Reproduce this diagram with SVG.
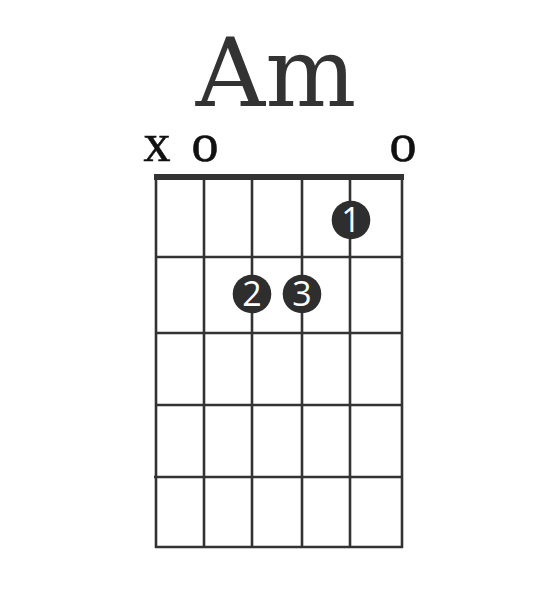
<svg xmlns="http://www.w3.org/2000/svg" width="554" height="611" viewBox="0 0 554 611">
<style>
.str{stroke:#333;stroke-width:2.6;fill:none}
.fret{stroke:#333;stroke-width:2.6;fill:none}
.nut{stroke:#333;stroke-width:6;fill:none}
.title{font-family:"DejaVu Serif",serif;font-size:96px;fill:#333}
.mark{font-family:"Liberation Serif",serif;font-size:54px;fill:#111;stroke:#111;stroke-width:0.6}
.dot{fill:#2e2e2e}
.num{font-family:"Open Sans",sans-serif;font-size:34px;fill:#fff}
</style>
<rect width="554" height="611" fill="#fff"/>
<g id="title"><text class="title" x="276" y="106" text-anchor="middle">Am</text></g>
<g id="open-marks">
<text class="mark" x="157" y="161" text-anchor="middle">x</text>
<text class="mark" x="205" y="161" text-anchor="middle">o</text>
<text class="mark" x="403" y="161" text-anchor="middle">o</text>
</g>
<g id="grid">
<line class="str" x1="156" y1="177" x2="156" y2="548"/>
<line class="str" x1="204" y1="177" x2="204" y2="548"/>
<line class="str" x1="252" y1="177" x2="252" y2="548"/>
<line class="str" x1="302" y1="177" x2="302" y2="548"/>
<line class="str" x1="350" y1="177" x2="350" y2="548"/>
<line class="str" x1="402" y1="177" x2="402" y2="548"/>
<line class="fret" x1="155" y1="257" x2="403" y2="257"/>
<line class="fret" x1="155" y1="333" x2="403" y2="333"/>
<line class="fret" x1="155" y1="405" x2="403" y2="405"/>
<line class="fret" x1="154" y1="477" x2="403" y2="477"/>
<line class="fret" x1="155" y1="547" x2="403" y2="547"/>
<line class="nut" x1="154" y1="177" x2="404" y2="177"/>
</g>
<g id="finger-1"><circle class="dot" cx="351" cy="220" r="19.3"/><text class="num" x="351" y="232" text-anchor="middle">1</text></g>
<g id="finger-2"><circle class="dot" cx="252" cy="294" r="19.3"/><text class="num" x="252" y="306" text-anchor="middle">2</text></g>
<g id="finger-3"><circle class="dot" cx="302" cy="294" r="19.3"/><text class="num" x="302" y="306" text-anchor="middle">3</text></g>
</svg>
